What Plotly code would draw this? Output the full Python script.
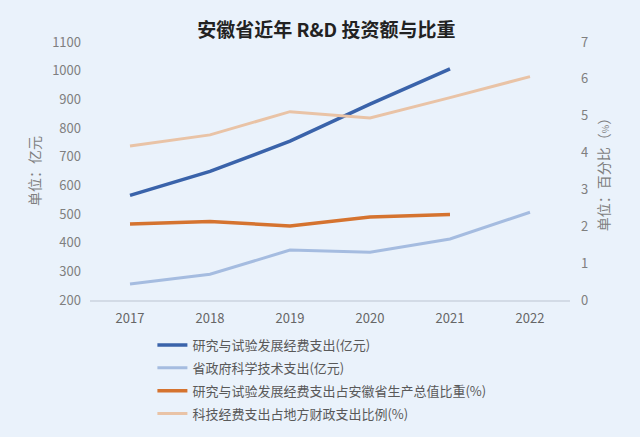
import plotly.graph_objects as go

years = ["2017", "2018", "2019", "2020", "2021", "2022"]
rd_spend = [564.9, 648.5, 754.0, 883.2, 1006.1, None]
gov_sci = [256, 290, 374, 367, 413, 506]
rd_ratio = [2.06, 2.13, 2.01, 2.25, 2.32, None]
sci_fiscal = [4.18, 4.48, 5.11, 4.94, 5.49, 6.06]

names = [
    "研究与试验发展经费支出(亿元)",
    "省政府科学技术支出(亿元)",
    "研究与试验发展经费支出占安徽省生产总值比重(%)",
    "科技经费支出占地方财政支出比例(%)",
]
colors = ["#3A63AA", "#A5BCE0", "#D5732F", "#E9C3A6"]

FONT = "Noto Sans CJK SC"
bg = "#EAF2FB"

fig = go.Figure()
fig.add_trace(go.Scatter(x=years, y=rd_spend, name=names[0], mode="lines",
                         line=dict(color=colors[0], width=3.5), yaxis="y", legendgroup="a"))
fig.add_trace(go.Scatter(x=years, y=gov_sci, name=names[1], mode="lines",
                         line=dict(color=colors[1], width=3), yaxis="y", legendgroup="b"))
fig.add_trace(go.Scatter(x=years, y=rd_ratio, name=names[2], mode="lines",
                         line=dict(color=colors[2], width=3.5), yaxis="y2", legendgroup="c"))
fig.add_trace(go.Scatter(x=years, y=sci_fiscal, name=names[3], mode="lines",
                         line=dict(color=colors[3], width=3), yaxis="y2", legendgroup="d"))

fig.update_layout(
    width=640, height=437,
    paper_bgcolor=bg, plot_bgcolor=bg,
    margin=dict(l=90, r=70, t=42, b=137, autoexpand=False),
    font=dict(family=FONT, color="#7F7F7F", size=13),
    title=dict(text="<b>安徽省近年 R&D 投资额与比重</b>", x=0.51, xanchor="center",
               y=0.93, yanchor="middle", font=dict(size=19, color="#222222", family=FONT)),
    xaxis=dict(type="category", range=[-0.5, 5.5], showgrid=False, showline=True,
               linecolor="#D3DBE6", linewidth=2, ticklabelstandoff=5,
               ticks="", zeroline=False, tickfont=dict(size=13, color="#666666")),
    yaxis=dict(range=[200, 1100], dtick=100, showgrid=False, zeroline=False, showline=False,
               ticks="", ticklabelstandoff=8, tickfont=dict(size=13, color="#7F7F7F"),
               title=dict(text="单位：亿元", font=dict(size=14, color="#7F7F7F"), standoff=8)),
    yaxis2=dict(range=[0, 7], dtick=1, overlaying="y", side="right", showgrid=False,
                zeroline=False, showline=False, ticks="", ticklabelstandoff=10,
                tickfont=dict(size=13, color="#7F7F7F"),
                title=dict(text="单位：百分比（<span style='font-size:9px'>%</span>）",
                           font=dict(size=14, color="#7F7F7F"), standoff=11)),
    legend=dict(x=0.13, xanchor="left", y=0.245, yref="container", yanchor="top",
                bgcolor="rgba(0,0,0,0)",
                font=dict(size=13, color="#595959"), tracegroupgap=3, itemwidth=30),
    showlegend=True,
)

fig.write_html("out.html")
